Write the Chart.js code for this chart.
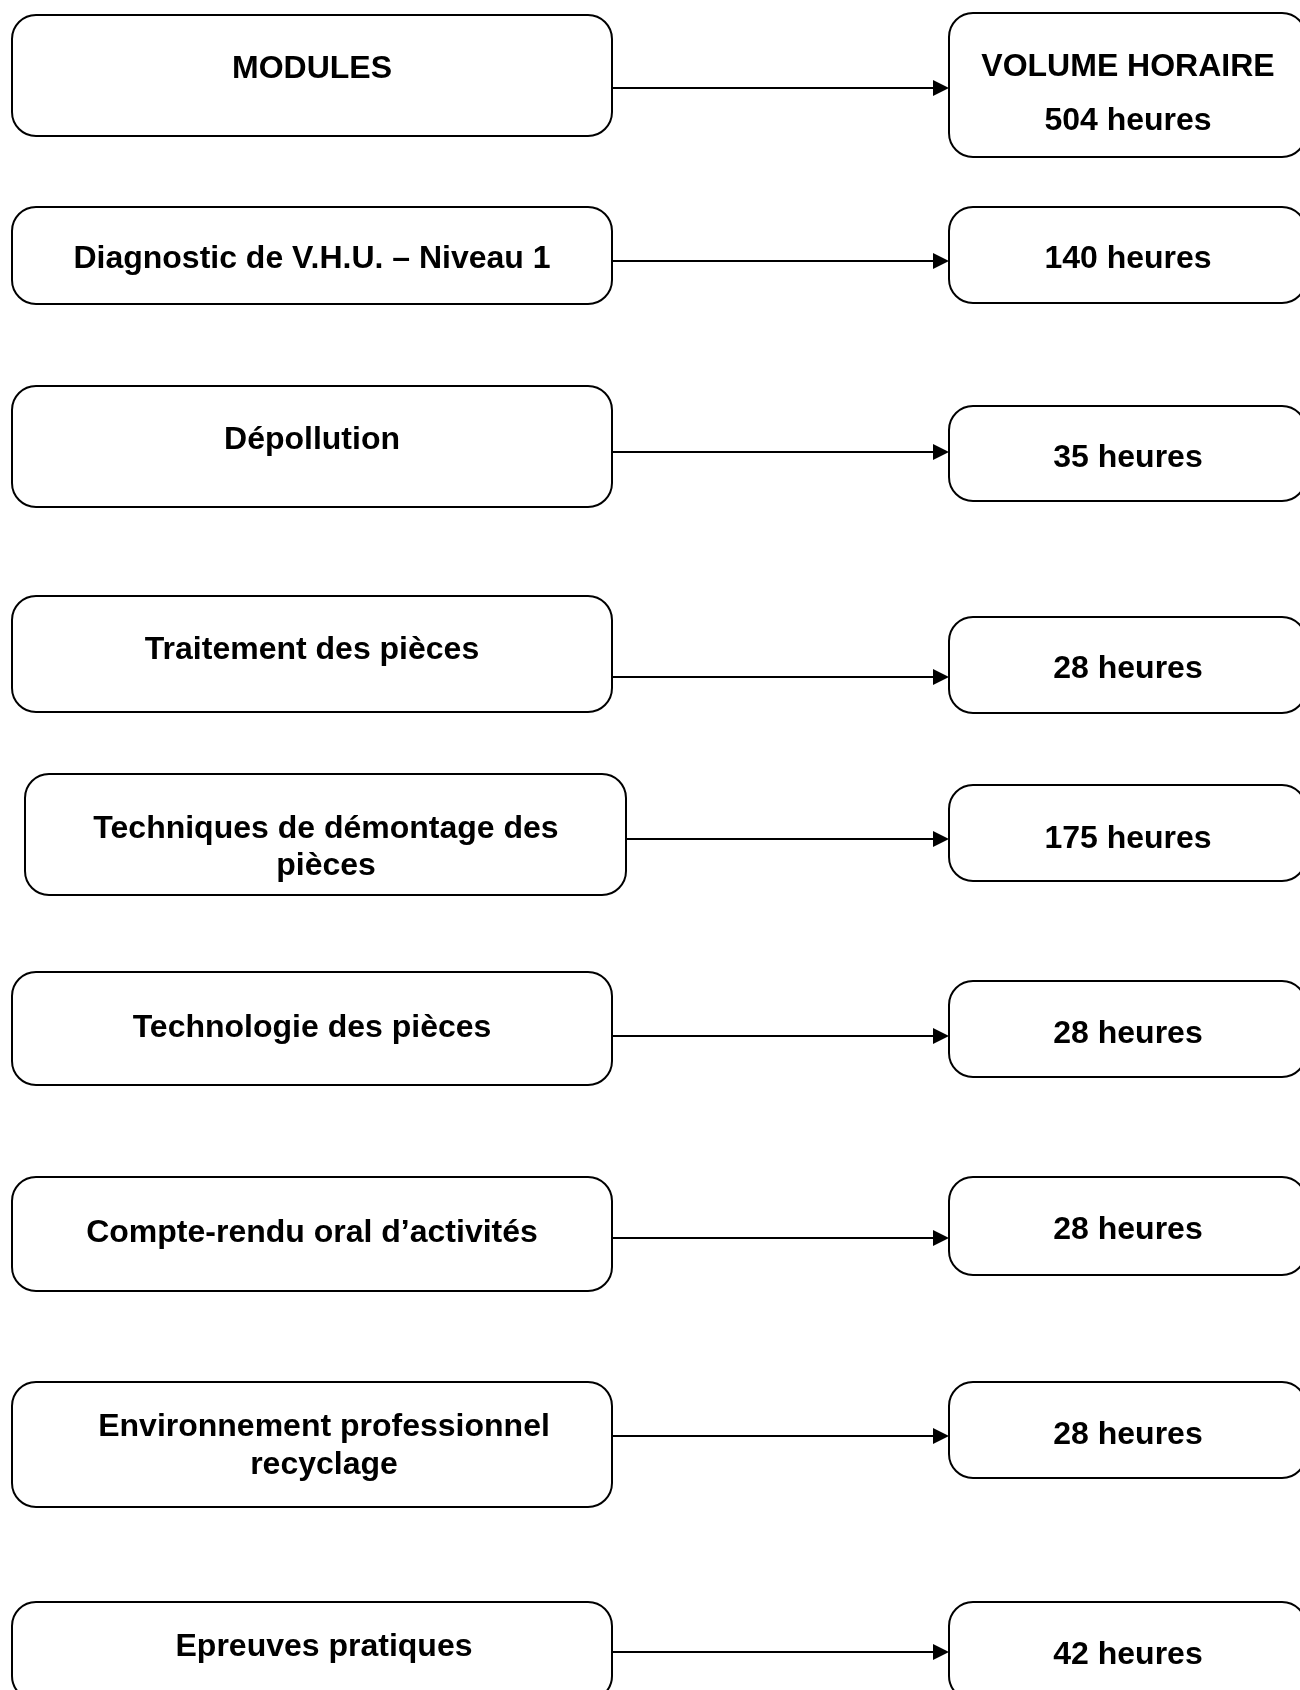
<!DOCTYPE html>
<html>
<head>
<meta charset="utf-8">
<script src="https://cdn.jsdelivr.net/npm/chart.js@4.4.1/dist/chart.umd.min.js"></script>
<style>
  html, body { margin: 0; padding: 0; background: #fff; }
  #wrap { width: 1300px; height: 1690px; }
</style>
</head>
<body>
<div id="wrap"><canvas id="diagram" width="1300" height="1690"></canvas></div>
<script>
// data
const headerLeft = ['MODULES'];
const headerRight = ['VOLUME HORAIRE', '504 heures'];
const modules = [
    ['Diagnostic de V.H.U. – Niveau 1'],
    ['Dépollution'],
    ['Traitement des pièces'],
    ['Techniques de démontage des', 'pièces'],
    ['Technologie des pièces'],
    ['Compte-rendu oral d’activités'],
    ['Environnement professionnel', 'recyclage'],
    ['Epreuves pratiques']
];
const hours = [140, 35, 28, 175, 28, 28, 28, 42];

// layout (page units, same as the hidden axes)
const leftX0 = [12, 12, 12, 12, 25, 12, 12, 12, 12];
const leftX1 = [612, 612, 612, 612, 626, 612, 612, 612, 612];
const leftY0 = [15, 207, 386, 596, 774, 972, 1177, 1382, 1602];
const leftY1 = [136, 304, 507, 712, 895, 1085, 1291, 1507, 1700];
const leftTextX = [312, 312, 312, 312, 326, 312, 312, 324, 324];
const leftTextY = [[69], [259], [440], [650], [829, 866], [1028], [1233], [1427, 1465], [1647]];
const rightX0 = 949, rightX1 = 1306;
const rightY0 = [13, 207, 406, 617, 785, 981, 1177, 1382, 1602];
const rightY1 = [157, 303, 501, 713, 881, 1077, 1275, 1478, 1700];
const rightTextX = 1128;
const rightTextY = [[67, 121], [259], [458], [669], [839], [1034], [1230], [1435], [1655]];
const arrowY = [88, 261, 452, 677, 839, 1036, 1238, 1436, 1652];

const FONT = 'bold 32px "Liberation Sans", Arial, sans-serif';

function roundBox(ctx, x0, y0, x1, y1, r) {
    ctx.beginPath();
    ctx.roundRect(x0, y0, x1 - x0, y1 - y0, r);
    ctx.stroke();
}

const flowPlugin = {
    id: 'flow',
    afterDraw(chart) {
        const ctx = chart.ctx;
        const sx = chart.scales.x, sy = chart.scales.y;
        const px = v => sx.getPixelForValue(v);
        const py = v => sy.getPixelForValue(v);

        const leftTexts = [headerLeft].concat(modules);
        const rightTexts = [headerRight].concat(hours.map(h => [h + ' heures']));

        ctx.save();
        ctx.strokeStyle = '#000';
        ctx.fillStyle = '#000';
        ctx.lineWidth = 2;
        ctx.font = FONT;
        ctx.textAlign = 'center';
        ctx.textBaseline = 'middle';

        for (let i = 0; i < leftTexts.length; i++) {
            // module box
            roundBox(ctx, px(leftX0[i]), py(leftY0[i]), px(leftX1[i]), py(leftY1[i]), 24);
            leftTexts[i].forEach((t, k) => ctx.fillText(t, px(leftTextX[i]), py(leftTextY[i][k])));

            // hours box
            roundBox(ctx, px(rightX0), py(rightY0[i]), px(rightX1), py(rightY1[i]), 24);
            rightTexts[i].forEach((t, k) => ctx.fillText(t, px(rightTextX), py(rightTextY[i][k])));

            // arrow
            const ay = py(arrowY[i]);
            const ax0 = px(leftX1[i]), ax1 = px(rightX0);
            ctx.beginPath();
            ctx.moveTo(ax0, ay);
            ctx.lineTo(ax1 - 14, ay);
            ctx.stroke();
            ctx.beginPath();
            ctx.moveTo(ax1, ay);
            ctx.lineTo(ax1 - 16, ay - 8);
            ctx.lineTo(ax1 - 16, ay + 8);
            ctx.closePath();
            ctx.fill();
        }
        ctx.restore();
    }
};

new Chart(document.getElementById('diagram').getContext('2d'), {
    type: 'scatter',
    data: { datasets: [{ data: [] }] },
    options: {
        responsive: false,
        animation: false,
        events: [],
        layout: { padding: 0 },
        plugins: { legend: { display: false }, tooltip: { enabled: false } },
        scales: {
            x: { type: 'linear', min: 0, max: 1300, display: false },
            y: { type: 'linear', min: 0, max: 1690, reverse: true, display: false }
        }
    },
    plugins: [flowPlugin]
});
</script>
</body>
</html>
